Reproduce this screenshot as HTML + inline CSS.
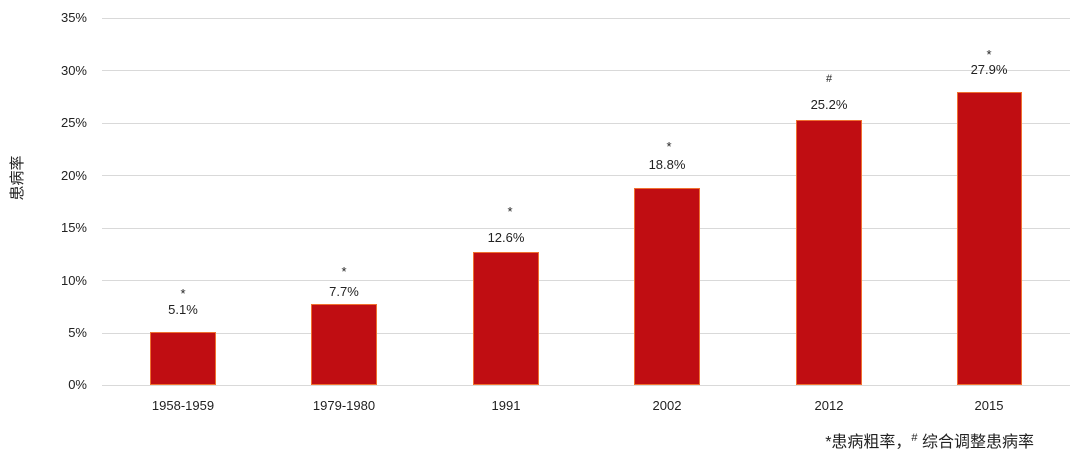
<!DOCTYPE html><html><head><style>body{margin:0;background:#fff}svg{display:block;font-family:"Liberation Sans","Noto Sans CJK SC",sans-serif}</style></head><body>
<svg width="1077" height="456" viewBox="0 0 1077 456">
<g stroke="#d9d9d9" stroke-width="1">
<line x1="102" x2="1070" y1="18.5" y2="18.5"/><line x1="102" x2="1070" y1="70.5" y2="70.5"/><line x1="102" x2="1070" y1="123.5" y2="123.5"/><line x1="102" x2="1070" y1="175.5" y2="175.5"/><line x1="102" x2="1070" y1="228.5" y2="228.5"/><line x1="102" x2="1070" y1="280.5" y2="280.5"/><line x1="102" x2="1070" y1="333.5" y2="333.5"/><line x1="102" x2="1070" y1="385.5" y2="385.5"/>
</g>
<g font-size="13" fill="#222" text-anchor="end">
<text x="87" y="22">35%</text><text x="87" y="75">30%</text><text x="87" y="127">25%</text><text x="87" y="180">20%</text><text x="87" y="232">15%</text><text x="87" y="285">10%</text><text x="87" y="337">5%</text><text x="87" y="389">0%</text>
</g>
<text transform="translate(22,178) rotate(-90)" font-size="15" fill="#222" text-anchor="middle">患病率</text>
<g fill="#c00d12" stroke="#f07030" stroke-width="1">
<rect x="150.5" y="332.5" width="65" height="52"/>
<rect x="311.5" y="304.5" width="65" height="80"/>
<rect x="473.5" y="252.5" width="65" height="132"/>
<rect x="634.5" y="188.5" width="65" height="196"/>
<rect x="796.5" y="120.5" width="65" height="264"/>
<rect x="957.5" y="92.5" width="64" height="292"/>
</g>
<g font-size="13" fill="#222" text-anchor="middle">
<text x="183" y="314">5.1%</text><text x="183" y="298">*</text>
<text x="344" y="296">7.7%</text><text x="344" y="276">*</text>
<text x="506" y="242">12.6%</text><text x="510" y="216">*</text>
<text x="667" y="169">18.8%</text><text x="669" y="151">*</text>
<text x="829" y="109">25.2%</text><text x="829" y="82" font-size="11">#</text>
<text x="989" y="74">27.9%</text><text x="989" y="59">*</text>
<text x="183" y="410">1958-1959</text><text x="344" y="410">1979-1980</text><text x="506" y="410">1991</text><text x="667" y="410">2002</text><text x="829" y="410">2012</text><text x="989" y="410">2015</text>
</g>
<text x="1034" y="447" font-size="16" fill="#222" text-anchor="end">*患病粗率，<tspan font-size="11" dy="-6">#</tspan><tspan dy="6"> 综合调整患病率</tspan></text>
</svg></body></html>
